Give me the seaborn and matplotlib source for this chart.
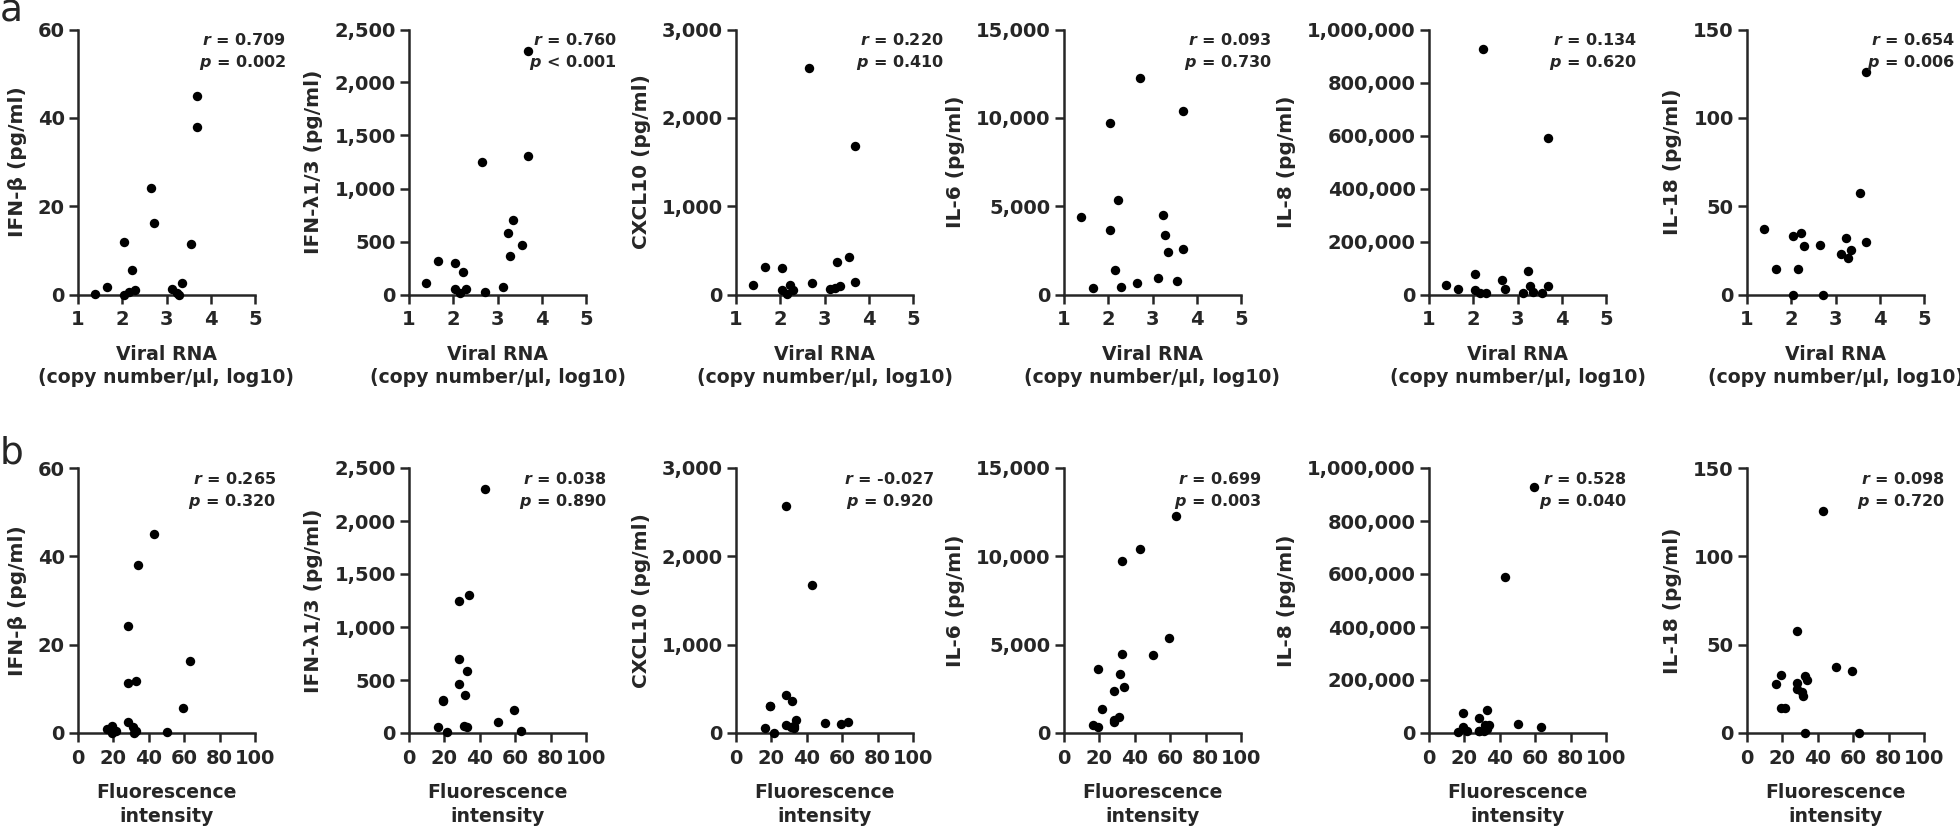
import numpy as np
import pandas as pd
import matplotlib
matplotlib.use("Agg")
import matplotlib.pyplot as plt
import seaborn as sns
from matplotlib.ticker import FuncFormatter

# one value per sample (16 samples), same order in every list
viral_rna = [1.38, 1.66, 2.04, 2.05, 2.15, 2.21, 2.28, 2.64, 2.71, 3.13, 3.24, 3.29, 3.34, 3.55, 3.70, 3.70]
fluorescence = [50.2, 19.3, 19.2, 33.0, 21.7, 59.2, 16.2, 28.4, 63.1, 31.1, 32.9, 31.6, 28.3, 28.5, 42.7, 33.9]

ifn_beta = [0.2, 1.6, 0.0, 11.8, 0.5, 5.6, 1.0, 24.2, 16.2, 1.3, 0.4, 0.0, 2.5, 11.4, 45.0, 38.0]
ifn_lambda = [106, 314, 299, 56, 12, 215, 56, 1247, 22, 68, 582, 361, 700, 463, 2301, 1306]
cxcl10 = [109, 309, 301, 53, 4, 102, 53, 2567, 128, 64, 79, 365, 94, 429, 1679, 147]
il6 = [4400, 350, 3650, 9720, 1370, 5350, 450, 650, 12280, 930, 4480, 3350, 2390, 740, 10410, 2580]
il8 = [34000, 22600, 76700, 16000, 6000, 927000, 4000, 56600, 21000, 6000, 87000, 31000, 9000, 6000, 590000, 31000]
il18 = [37.2, 14.2, 33.0, 0.0, 14.2, 34.9, 27.5, 28.3, 0.0, 23.2, 32.1, 20.9, 25.1, 57.7, 125.7, 29.8]

cytokine_labels = ["IFN-β (pg/ml)", "IFN-λ1/3 (pg/ml)", "CXCL10 (pg/ml)",
                   "IL-6 (pg/ml)", "IL-8 (pg/ml)", "IL-18 (pg/ml)"]
y_max = [60, 2500, 3000, 15000, 1000000, 150]
y_step = [20, 500, 1000, 5000, 200000, 50]

r_viral = [0.709, 0.760, 0.220, 0.093, 0.134, 0.654]
p_viral = ["= 0.002", "< 0.001", "= 0.410", "= 0.730", "= 0.620", "= 0.006"]
r_fluor = [0.265, 0.038, -0.027, 0.699, 0.528, 0.098]
p_fluor = ["= 0.320", "= 0.890", "= 0.920", "= 0.003", "= 0.040", "= 0.720"]

cytokines = [ifn_beta, ifn_lambda, cxcl10, il6, il8, il18]

sns.set_style("ticks")
plt.rcParams["font.family"] = ["DejaVu Sans"]
plt.rcParams["font.weight"] = "bold"
plt.rcParams["axes.labelweight"] = "bold"
plt.rcParams["mathtext.fontset"] = "custom"
plt.rcParams["mathtext.it"] = "DejaVu Sans:italic:bold"
plt.rcParams["mathtext.rm"] = "DejaVu Sans:bold"

W, H = 1960, 833
fig = plt.figure(figsize=(W / 100, H / 100), dpi=100)

col_left = [78, 409, 736, 1064, 1429, 1747]
ax_w, ax_h = 177, 265

rows = [
    dict(x=viral_rna, xlabel="Viral RNA\n(copy number/μl, log10)", xlim=(1, 5),
         xticks=[1, 2, 3, 4, 5], bottom=294.5, r=r_viral, p=p_viral, off=31),
    dict(x=fluorescence, xlabel="Fluorescence\nintensity", xlim=(0, 100),
         xticks=[0, 20, 40, 60, 80, 100], bottom=733, r=r_fluor, p=p_fluor, off=21),
]

comma = FuncFormatter(lambda v, pos: f"{v:,.0f}")

for row in rows:
    for i in range(6):
        ax = fig.add_axes([col_left[i] / W, 1 - row["bottom"] / H, ax_w / W, ax_h / H])
        df = pd.DataFrame({"x": row["x"], "y": cytokines[i]})
        sns.scatterplot(data=df, x="x", y="y", ax=ax, color="black", s=46,
                        linewidth=0, clip_on=False, legend=False, zorder=3)
        ax.set_xlim(*row["xlim"])
        ax.set_ylim(0, y_max[i])
        ax.set_xticks(row["xticks"])
        ax.set_yticks(np.arange(0, y_max[i] + 1, y_step[i]))
        ax.yaxis.set_major_formatter(comma)
        sns.despine(ax=ax)
        for s in ["left", "bottom"]:
            ax.spines[s].set_linewidth(1.8)
        ax.tick_params(length=6.5, width=1.8, labelsize=14)
        ax.tick_params(axis="x", pad=5)
        ax.tick_params(axis="y", pad=3)
        ax.set_xlabel(row["xlabel"], fontsize=13.6, linespacing=1.3)
        ax.xaxis.set_label_coords(0.5, -0.19)
        ax.set_ylabel(cytokine_labels[i], fontsize=14.5, labelpad=8)
        tx = 1 + row["off"] / ax_w
        ax.text(tx, 1 - 15.5 / ax_h, f"$r$ = {row['r'][i]:.3f}", transform=ax.transAxes,
                ha="right", va="baseline", fontsize=11.5)
        ax.text(tx, 1 - 38 / ax_h, f"$p$ {row['p'][i]}", transform=ax.transAxes,
                ha="right", va="baseline", fontsize=11.5)

fig.text(0.0, 1 - 21 / H, "a", fontsize=27, fontweight="normal", ha="left", va="baseline")
fig.text(0.0, 1 - 463.3 / H, "b", fontsize=27, fontweight="normal", ha="left", va="baseline")

fig.savefig("out.png", dpi=100)
